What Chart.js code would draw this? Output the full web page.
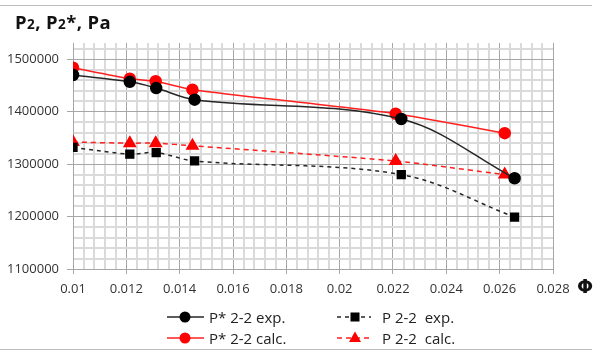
<!DOCTYPE html>
<html>
<head>
<meta charset="utf-8">
<script src="https://cdn.jsdelivr.net/npm/chart.js@4/dist/chart.umd.min.js"></script>
<style>
  body { margin: 0; background: #fff; }
  #wrap { position: relative; width: 595px; height: 352px; font-family: 'Open Sans', sans-serif; }
  #myChart { position: absolute; left: 0; top: 0; }
  .rule { position: absolute; left: 0; width: 592px; height: 0; border-top: 1.5px solid #bdbdbd; }
  #title { position: absolute; left: 15px; top: 9px; font-size: 18.5px; font-weight: bold; color: #111; white-space: pre; letter-spacing: 0.4px; }
  #title small { font-size: 13.5px; }
  #phi { position: absolute; left: 577px; top: 275px; font-size: 19px; font-weight: bold; color: #111; font-family: 'DejaVu Sans', sans-serif; }
  .leg { position: absolute; display: flex; align-items: center; font-size: 15px; color: #222; white-space: pre; height: 20px; }
  .leg svg { margin-right: 5px; }
</style>
</head>
<body>
<div id="wrap">
  <canvas id="myChart" width="595" height="352"></canvas>
  <div class="rule" style="top:5px"></div>
  <div class="rule" style="top:349px"></div>
  <div id="title">P<small>2</small>, P<small>2</small>*, Pa</div>
  <div id="phi">Φ</div>
  <div id="legend"></div>
</div>
<script>
// values
const xStarExp  = [0.01, 0.01213, 0.01312, 0.01456, 0.02231, 0.02656];
const yStarExp  = [1470000, 1457000, 1445000, 1423000, 1386000, 1273000];
const xStarCalc = [0.01, 0.01213, 0.0131, 0.01448, 0.0221, 0.02619];
const yStarCalc = [1484000, 1463000, 1458000, 1442000, 1396000, 1359000];
const xExp      = [0.01, 0.01213, 0.01312, 0.01456, 0.02231, 0.02656];
const yExp      = [1332000, 1319000, 1322000, 1306000, 1280000, 1199000];
const xCalc     = [0.01, 0.01213, 0.0131, 0.01448, 0.0221, 0.02619];
const yCalc     = [1342000, 1340000, 1340000, 1335000, 1306000, 1280000];

const xTickLabels = ['0.01', '0.012', '0.014', '0.016', '0.018', '0.02', '0.022', '0.024', '0.026', '0.028'];
const yTickLabels = [1100000, 1200000, 1300000, 1400000, 1500000];
const xMinorStep = 0.0004;
const yMinorStep = 20000;

const toPoints = (xs, ys) => xs.map((x, i) => ({x: x, y: ys[i]}));

// minor grid positions between the labelled ticks
let xGrid = [];
for (let i = 0; i <= 45; i++) xGrid.push(+(0.01 + i * xMinorStep).toFixed(5));
let yGrid = [];
for (let v = 1100000; v <= 1520000; v += yMinorStep) yGrid.push(v);

const isXMajor = v => xTickLabels.some(t => Math.abs(parseFloat(t) - v) < 1e-7);
const isYMajor = v => yTickLabels.includes(v);

const series = [
    {label: 'P* 2-2 exp.',  data: toPoints(xStarExp, yStarExp),   color: '#000000', line: '#262626', dash: [],     style: 'circle',   r: 5.5, tension: 0.35},
    {label: 'P 2-2  exp.',  data: toPoints(xExp, yExp),           color: '#000000', line: '#262626', dash: [4, 4], style: 'rect',     r: 5.5, tension: 0.35},
    {label: 'P* 2-2 calc.', data: toPoints(xStarCalc, yStarCalc), color: '#ff0000', line: '#ff2020', dash: [],     style: 'circle',   r: 5.5, tension: 0.2},
    {label: 'P 2-2  calc.', data: toPoints(xCalc, yCalc),         color: '#ff0000', line: '#ff2020', dash: [5, 4], style: 'triangle', r: 6.5, tension: 0.2},
];

let ctx = document.getElementById('myChart').getContext('2d');
window.myChart = new Chart(ctx, {
    type: 'line',
    data: {
        datasets: series.map(s => ({
            label: s.label,
            data: s.data,
            borderColor: s.line,
            backgroundColor: s.color,
            pointBackgroundColor: s.color,
            pointBorderColor: s.color,
            pointStyle: s.style,
            pointRadius: s.r,
            borderWidth: 1.5,
            borderDash: s.dash,
            tension: s.tension,
            fill: false,
        }))
    },
    options: {
        responsive: false,
        animation: false,
        layout: {
            padding: {left: 0, right: 42, top: 43, bottom: 58}
        },
        scales: {
            x: {
                type: 'linear',
                min: 0.01,
                max: 0.028,
                afterBuildTicks: scale => { scale.ticks = xGrid.map(v => ({value: v})); },
                afterFit: scale => { scale.height = 25; },
                grid: {
                    color: c => isXMajor(c.tick.value) ? '#a6a6a6' : '#dadada',
                    lineWidth: c => isXMajor(c.tick.value) ? 1 : 2,
                    tickColor: c => isXMajor(c.tick.value) ? '#a6a6a6' : 'rgba(0,0,0,0)',
                    tickLength: 5,
                },
                border: {color: '#a6a6a6'},
                ticks: {
                    autoSkip: false,
                    maxRotation: 0,
                    padding: 7,
                    color: '#333',
                    font: {family: 'Open Sans', size: 13},
                    callback: v => {
                        let t = xTickLabels.find(t => Math.abs(parseFloat(t) - v) < 1e-7);
                        return t ? t : '';
                    }
                }
            },
            y: {
                type: 'linear',
                min: 1100000,
                max: 1531000,
                afterBuildTicks: scale => { scale.ticks = yGrid.map(v => ({value: v})); },
                afterFit: scale => { scale.width = 73; },
                grid: {
                    color: c => isYMajor(c.tick.value) ? '#a6a6a6' : '#dadada',
                    lineWidth: c => isYMajor(c.tick.value) ? 1 : 2,
                    tickColor: c => isYMajor(c.tick.value) ? '#a6a6a6' : 'rgba(0,0,0,0)',
                    tickLength: 6,
                },
                border: {color: '#a6a6a6'},
                ticks: {
                    autoSkip: false,
                    padding: 8,
                    color: '#333',
                    font: {family: 'Open Sans', size: 13},
                    callback: v => isYMajor(v) ? String(v) : ''
                }
            }
        },
        plugins: {
            legend: {display: false},
            tooltip: {enabled: false}
        }
    }
});

// legend in two columns, like the original
const legendPos = [
    {left: 167, top: 307},
    {left: 337, top: 307},
    {left: 167, top: 328},
    {left: 337, top: 328},
];
const marker = s => {
    if (s.style === 'circle') return `<circle cx="18" cy="10" r="5.5" fill="${s.color}"/>`;
    if (s.style === 'rect') return `<rect x="13.5" y="5.5" width="9" height="9" fill="${s.color}"/>`;
    return `<polygon points="18,3.5 24,14 12,14" fill="${s.color}"/>`;
};
document.getElementById('legend').innerHTML = series.map((s, i) => {
    let p = legendPos[i];
    let w = s.dash.length ? 34 : 37;
    return `<div class="leg" style="left:${p.left}px;top:${p.top}px">` +
        `<svg width="${w}" height="20"><line x1="0" y1="10" x2="${w}" y2="10" stroke="${s.line}" stroke-width="1.5" stroke-dasharray="${s.dash.join(' ')}"/>${marker(s)}</svg>` +
        `<span style="margin-left:${s.dash.length ? 6 : 0}px">${s.label}</span></div>`;
}).join('');
</script>
</body>
</html>
